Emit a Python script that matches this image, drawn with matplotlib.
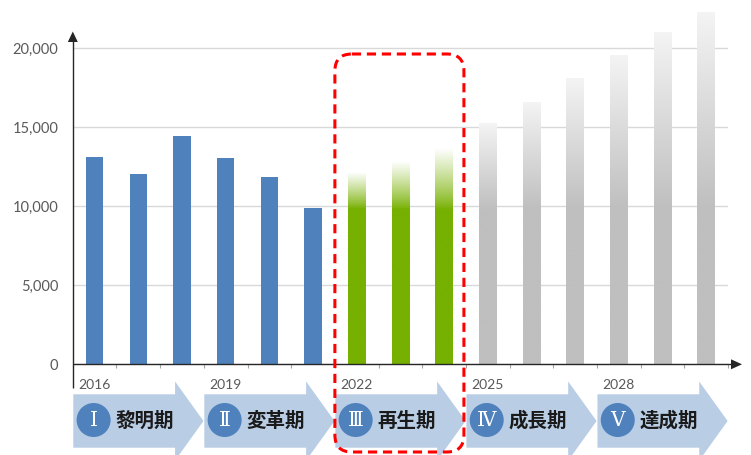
import numpy as np
import matplotlib
matplotlib.use('Agg')
import matplotlib.pyplot as plt
from matplotlib.patches import Polygon, Circle, FancyBboxPatch
from matplotlib.colors import to_rgb
from matplotlib.ticker import FuncFormatter

plt.rcParams['font.family'] = ['Lato', 'Noto Sans CJK JP', 'DejaVu Sans']

# ---- data ----
years = list(range(2016, 2031))
values = [13120, 12060, 14430, 13040, 11850, 9870,
          12090, 12820, 13670,
          15250, 16520, 18040, 19530, 21010, 22250]
phase = ['actual'] * 6 + ['renewal'] * 3 + ['forecast'] * 6
year_labels = ['2016', '2019', '2022', '2025', '2028']
stage_numerals = ['Ⅰ', 'Ⅱ', 'Ⅲ', 'Ⅳ', 'Ⅴ']
stage_names = ['黎明期', '変革期', '再生期', '成長期', '達成期']
yticks = [0, 5000, 10000, 15000, 20000]

W, H = 751, 455
fig = plt.figure(figsize=(W / 100, H / 100), dpi=100)
ax = fig.add_axes([72.8 / W, (H - 364.3) / H, (728 - 72.8) / W, 331.8 / H])

x = np.arange(len(years))
BLUE = '#4f81bd'
GREEN = '#76b000'


def grad_bar(xi, v, c_bottom, c_top, start=9800, n=400, gamma=1.0):
    h = np.linspace(0, v, n)
    t = np.clip((h - start) / (v - start), 0, 1) ** gamma
    c0 = np.array(to_rgb(c_bottom))
    c1 = np.array(to_rgb(c_top))
    col = c0[None, :] * (1 - t[:, None]) + c1[None, :] * t[:, None]
    img = col[:, None, :]
    im = ax.imshow(img, extent=[xi - 0.2, xi + 0.2, 0, v], origin='lower',
                   aspect='auto', interpolation='bilinear', zorder=2)
    im.set_clip_on(False)


for xi, v, p in zip(x, values, phase):
    if p == 'actual':
        ax.bar(xi, v, width=0.4, color=BLUE, zorder=2)
    elif p == 'renewal':
        grad_bar(xi, v, GREEN, '#ffffff', gamma=0.85)
    else:
        grad_bar(xi, v, '#bfbfbf', '#f4f4f4')

ax.set_xlim(-0.5, 14.5)
ax.set_ylim(0, 21000)
ax.set_yticks(yticks)
ax.yaxis.set_major_formatter(FuncFormatter(lambda v, _: f'{int(v):,}'))
ax.yaxis.grid(True, color='#d9d9d9', lw=1.0)
ax.set_axisbelow(True)
ax.tick_params(axis='y', length=0, pad=10.4, labelsize=10.5, labelcolor='#595959')
ax.set_xticks(np.arange(-0.5, 15, 1))
ax.set_xticklabels([])
ax.tick_params(axis='x', direction='out', length=3.0, width=0.8, color='#a6a6a6')
for s in ax.spines.values():
    s.set_visible(False)
ax.patch.set_alpha(0)

# ---- overlay in pixel coordinates ----
ov = fig.add_axes([0, 0, 1, 1], zorder=5)
ov.set_xlim(0, W)
ov.set_ylim(H, 0)
ov.axis('off')


def px(xd):
    return ax.transData.transform((xd, 0))[0]


x_left = px(-0.5)
y_zero = H - ax.transData.transform((0, 0))[1]
cw = px(1) - px(0)

AX_COL = '#262626'
# y axis with arrow
ov.plot([x_left, x_left], [388, 41], color=AX_COL, lw=1.0, solid_capstyle='butt')
ov.add_patch(Polygon([(x_left, 31.5), (x_left - 5, 42), (x_left + 5, 42)],
                     closed=True, color=AX_COL, lw=0))
# x axis with arrow
ov.plot([x_left, 731], [y_zero, y_zero], color=AX_COL, lw=1.0, solid_capstyle='butt')
ov.add_patch(Polygon([(742, y_zero), (731, y_zero - 5), (731, y_zero + 5)],
                     closed=True, color=AX_COL, lw=0))

# stage chevrons
for k in range(5):
    s = 3 * k
    x0 = px(s - 0.5) + 0.5
    xh = x0 + 2.33 * cw
    xt = x0 + 2.98 * cw
    poly = [(x0, 394.3), (xh, 394.3), (xh, 381.5), (xt, 421), (xh, 460.5),
            (xh, 447.7), (x0, 447.7)]
    ov.add_patch(Polygon(poly, closed=True, facecolor='#b9cde5', lw=0, zorder=1))
    ov.add_patch(Circle((x0 + 20.3, 420), 17, facecolor='#4f81bd', lw=0, zorder=2))
    ov.text(x0 + 20.3, 420.5, stage_numerals[k], color='white', fontsize=14.5,
            family=['DejaVu Serif', 'DejaVu Sans'], ha='center', va='center', zorder=3)
    ov.text(x0 + 42, 421, stage_names[k], color='#1a1a1a', fontsize=14,
            family=['Noto Sans CJK JP', 'DejaVu Sans'], weight='bold',
            ha='left', va='center', zorder=3)
    ov.text(x0 + 5, 385, year_labels[k], color='#595959', fontsize=10,
            ha='left', va='center', zorder=3)

# red dashed rounded frame around the renewal period
rl = px(5.5)
rr = px(8.5) - 2
ov.add_patch(FancyBboxPatch((rl, 54), rr - rl, 398,
                            boxstyle='round,pad=0,rounding_size=17',
                            facecolor='none', edgecolor='#ff0000', lw=2.2,
                            linestyle=(0, (3.0, 1.9)), zorder=6))

fig.savefig('out.png', dpi=100)
